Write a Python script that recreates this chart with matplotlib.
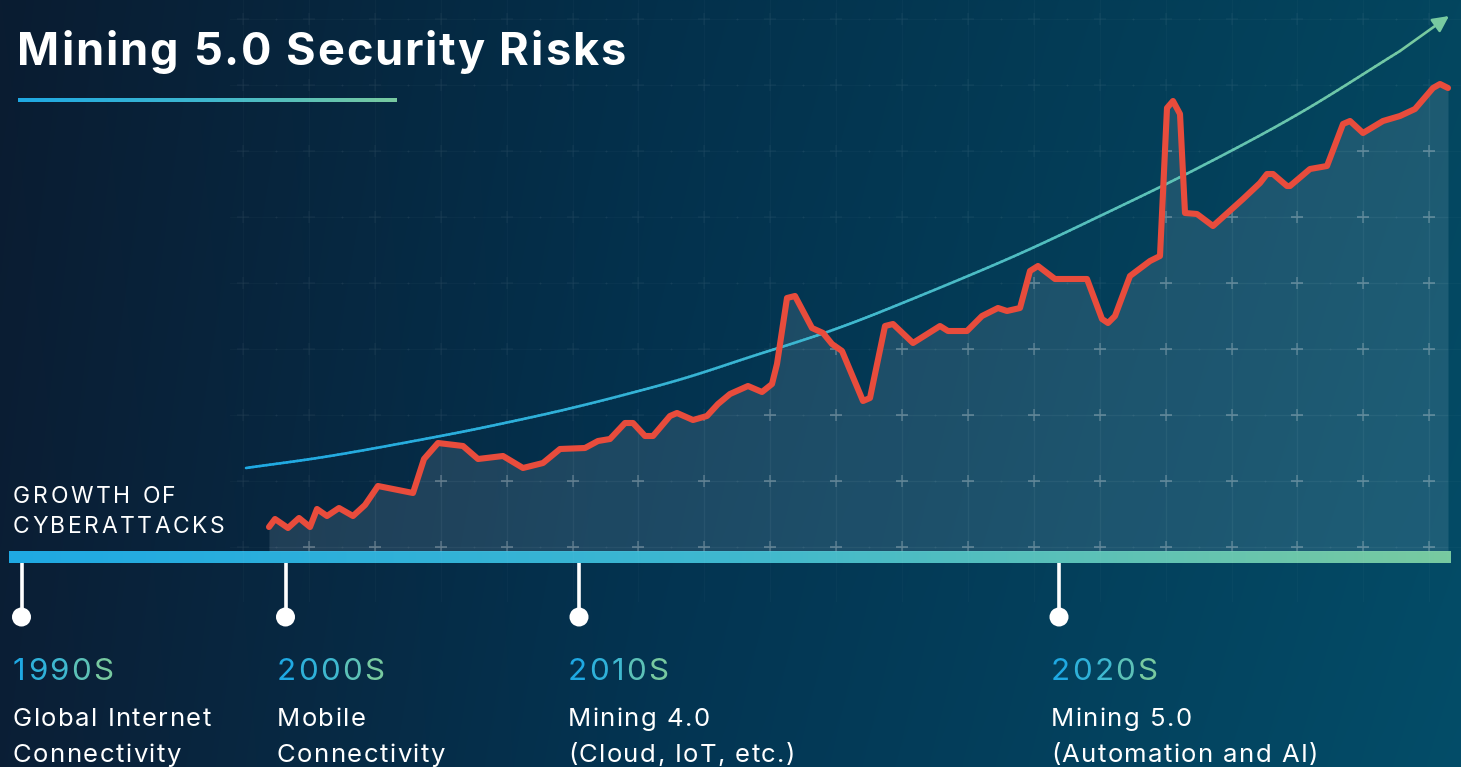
import numpy as np
import matplotlib
matplotlib.use("Agg")
import matplotlib.pyplot as plt
from matplotlib.collections import LineCollection
from matplotlib.colors import LinearSegmentedColormap, to_rgb
from matplotlib.patches import Circle
from matplotlib.font_manager import FontProperties

W, H = 1461, 767
DPI = 100
FONT = ["Inter", "DejaVu Sans"]

# ---------------- data (timeline position, attack index) ----------------
attack_x = [269, 275, 288, 299, 310, 317, 327, 339, 353, 365, 378, 413, 424, 438,
            463, 478, 503, 523, 543, 560, 585, 598, 610, 625, 633, 645, 653, 670,
            677, 693, 707, 718, 730, 748, 762, 772, 777, 787, 795, 812, 823, 832,
            842, 863, 870, 885, 893, 913, 940, 948, 967, 982, 998, 1007, 1020,
            1030, 1038, 1055, 1087, 1102, 1108, 1115, 1130, 1150, 1160, 1167,
            1173, 1180, 1185, 1197, 1213, 1243, 1260, 1267, 1273, 1287, 1290,
            1310, 1327, 1343, 1350, 1363, 1383, 1400, 1415, 1433, 1440, 1448]
attack_y = [24, 32, 23, 33, 24, 42, 35, 43, 35, 46, 65, 58, 92, 108,
            105, 92, 95, 83, 88, 102, 103, 110, 112, 128, 128, 115, 115, 135,
            138, 131, 135, 147, 157, 165, 159, 167, 187, 253, 255, 223, 218, 207,
            200, 150, 153, 225, 227, 208, 225, 220, 220, 235, 243, 240, 243,
            280, 285, 272, 272, 232, 228, 235, 275, 290, 295, 443,
            450, 437, 338, 337, 325, 352, 368, 377, 377, 365, 365,
            382, 385, 427, 430, 418, 430, 435, 442, 463, 467, 463]

trend_x = [246, 330, 430, 500, 580, 675, 750, 830, 900, 1010, 1100, 1200, 1300, 1400, 1449]
trend_y = [83, 95, 113, 127, 145, 170, 194, 220, 247, 293, 335, 384, 438, 500, 535]

title = "Mining 5.0 Security Risks"
series_label = ["GROWTH OF", "CYBERATTACKS"]
era_labels = ["1990S", "2000S", "2010S", "2020S"]
era_desc = [["Global Internet", "Connectivity"],
            ["Mobile", "Connectivity"],
            ["Mining 4.0", "(Cloud, IoT, etc.)"],
            ["Mining 5.0", "(Automation and AI)"]]
era_pos = [21.5, 285.5, 579, 1059]

# ---------------- style ----------------
BLUE = "#1fa9e3"
GREEN = "#78caa0"
RED = "#e84c3c"
grad = LinearSegmentedColormap.from_list("g", [BLUE, "#3fb8cf", GREEN])

fig = plt.figure(figsize=(W / DPI, H / DPI), dpi=DPI)
bg = fig.add_axes([0, 0, 1, 1])
bg.set_axis_off()

# background gradient
t = np.linspace(0, 1, 600)
stops = [(0.0, "#0a1c31"), (0.45, "#03304b"), (1.0, "#03465f")]
cols = np.zeros((600, 3))
for i in range(3):
    cols[:, i] = np.interp(t, [s[0] for s in stops], [to_rgb(s[1])[i] for s in stops])
yy = np.linspace(0, 1, 200)[:, None, None]
img = np.clip(cols[None, :, :] * (1.0 + 0.10 * yy), 0, 1)
bg.imshow(img, extent=[0, W, H, 0], aspect="auto", zorder=0, interpolation="bilinear")
bg.set_xlim(0, W)
bg.set_ylim(H, 0)

# chart axes: x = timeline position, y = attack index (0 at timeline bar)
BAR_TOP = 551
ax = fig.add_axes([0, (H - BAR_TOP) / H, 1, BAR_TOP / H])
ax.set_xlim(0, W)
ax.set_ylim(0, BAR_TOP)
ax.set_axis_off()
ax.patch.set_alpha(0)

# faint grid
gx = 243 + 65.9 * np.arange(19)
gy = 4 + 66 * np.arange(9)
for x in gx:
    ax.plot([x, x], [-50, BAR_TOP], color="white", alpha=0.022, lw=1, zorder=1, clip_on=False)
for y in gy:
    ax.plot([230, W], [y, y], color="white", alpha=0.022, lw=1, zorder=1)
GX, GY = np.meshgrid(gx, gy)
MX, MY = np.meshgrid(gx + 33, gy)
ax.scatter(MX.ravel(), MY.ravel(), s=2, color="white", alpha=0.06, lw=0, zorder=1)
ax.scatter(GX.ravel(), GY.ravel(), marker="+", s=70, color="white", alpha=0.045, lw=1.1, zorder=1)

# area fill under the attack series
fill = ax.fill_between(attack_x, attack_y, 0, color="#cfe3f0", alpha=0.13, lw=0, zorder=2)
fpath, ftr = fill.get_paths()[0], fill.get_transform()
inner = ax.scatter(GX.ravel(), GY.ravel(), marker="+", s=70, color="white", alpha=0.22, lw=1.1, zorder=3)
inner.set_clip_path(fpath, ftr)
for x in gx:
    l, = ax.plot([x, x], [0, BAR_TOP], color="white", alpha=0.03, lw=1, zorder=3)
    l.set_clip_path(fpath, ftr)
for y in gy:
    l, = ax.plot([230, W], [y, y], color="white", alpha=0.03, lw=1, zorder=3)
    l.set_clip_path(fpath, ftr)


# trend curve: smooth Catmull-Rom rendering through the read points
def catmull(px, py, n=24):
    P = np.column_stack([px, py]).astype(float)
    P = np.vstack([2 * P[0] - P[1], P, 2 * P[-1] - P[-2]])
    out = []
    for i in range(1, len(P) - 2):
        p0, p1, p2, p3 = P[i - 1], P[i], P[i + 1], P[i + 2]
        for s in np.linspace(0, 1, n, endpoint=False):
            out.append(0.5 * ((2 * p1) + (-p0 + p2) * s + (2 * p0 - 5 * p1 + 4 * p2 - p3) * s ** 2
                              + (-p0 + 3 * p1 - 3 * p2 + p3) * s ** 3))
    out.append(P[-2])
    return np.array(out)


curve = catmull(trend_x[:-1], trend_y[:-1])
x0, x1 = trend_x[0], trend_x[-1]
segs = np.stack([curve[:-1], curve[1:]], axis=1)
segc = [grad((0.5 * (a[0] + b[0]) - x0) / (x1 - x0)) for a, b in segs]
lc = LineCollection(segs, colors=segc, linewidths=1.9, capstyle="round", zorder=4)
ax.add_collection(lc)
ax.annotate("", xy=(trend_x[-1], trend_y[-1]), xytext=(trend_x[-2], trend_y[-2]),
            arrowprops=dict(arrowstyle="-|>", color=GREEN, lw=1.9, mutation_scale=24,
                            shrinkA=0, shrinkB=0), zorder=4, annotation_clip=False)

# attack series
ax.plot(attack_x, attack_y, color=RED, lw=4.4, solid_joinstyle="round",
        solid_capstyle="round", zorder=5)

# timeline bar
bar = grad(np.linspace(0, 1, 500))[None, :, :3]
bg.imshow(bar, extent=[9, 1451, 563, 551], aspect="auto", zorder=6, interpolation="bilinear")
for x in era_pos:
    bg.plot([x, x], [563, 617], color="white", lw=2.6, zorder=6, solid_capstyle="butt")
    bg.add_patch(Circle((x, 617), 9.5, color="white", zorder=7, lw=0))

renderer = fig.canvas.get_renderer()


def char_w(ch, size, weight):
    fp = FontProperties(family=FONT, size=size, weight=weight)
    if ch == " ":
        a = renderer.get_text_width_height_descent("a a", fp, ismath=False)[0]
        b = renderer.get_text_width_height_descent("aa", fp, ismath=False)[0]
        return a - b
    return renderer.get_text_width_height_descent(ch, fp, ismath=False)[0]


def spaced(x, y, s, size, colors, track, weight="normal"):
    cx = x
    for i, ch in enumerate(s):
        if ch != " ":
            bg.text(cx, y, ch, fontsize=size, color=colors[i], va="baseline",
                    ha="left", family=FONT, weight=weight, zorder=8)
        cx += char_w(ch, size, weight) + track
    return cx


# title + underline
spaced(17, 65, title, 32.5, ["white"] * len(title), 1.9, weight="bold")
ul = grad(np.linspace(0, 1, 300))[None, :, :3]
bg.imshow(ul, extent=[18, 397, 102, 98], aspect="auto", zorder=8, interpolation="bilinear")

# series label
spaced(13, 503, series_label[0], 16.5, ["white"] * 20, 2.7)
spaced(13, 533, series_label[1], 16.5, ["white"] * 20, 2.5)

# era labels
text_x = [13, 277, 568, 1051]
for k, lab in enumerate(era_labels):
    c = [grad(i / (len(lab) - 1)) for i in range(len(lab))]
    spaced(text_x[k], 680, lab, 22.5, c, 2.2)
    for j, line in enumerate(era_desc[k]):
        spaced(text_x[k], 726 + 36 * j, line, 18.5, ["white"] * len(line), 1.4)

bg.set_xlim(0, W)
bg.set_ylim(H, 0)
fig.savefig("out.png", dpi=DPI)
